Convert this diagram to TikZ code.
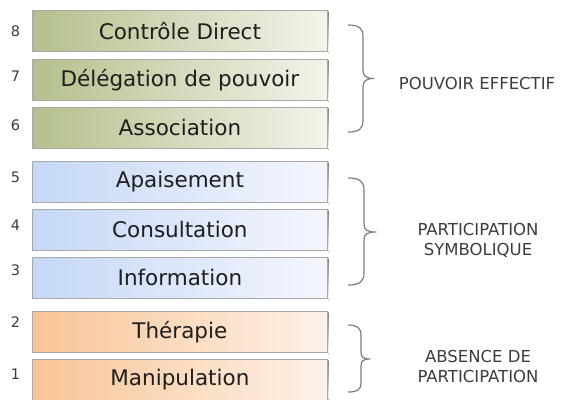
\documentclass[tikz,border=0pt]{standalone}
\usepackage{fontspec}
\setmainfont{DejaVu Sans}
\definecolor{gL}{RGB}{180,192,140}
\definecolor{gR}{RGB}{243,244,234}
\definecolor{bL}{RGB}{196,216,246}
\definecolor{bR}{RGB}{245,246,253}
\definecolor{oL}{RGB}{248,196,150}
\definecolor{oR}{RGB}{253,242,232}
\definecolor{edge}{RGB}{168,168,168}
\definecolor{shade}{RGB}{205,205,205}
\definecolor{txt}{RGB}{30,30,30}
\definecolor{lbl}{RGB}{60,60,60}
\definecolor{brc}{RGB}{125,125,125}
\begin{document}
\begin{tikzpicture}[x=1pt,y=-1pt,
  rung/.style={draw=edge, line width=0.8pt, minimum width=295pt, minimum height=41pt,
    inner sep=0pt, text=txt, font=\fontsize{21.5}{24}\selectfont, anchor=north west},
  green/.style={rung, left color=gL, right color=gR},
  blue/.style={rung, left color=bL, right color=bR},
  orange/.style={rung, left color=oL, right color=oR},
  num/.style={text=lbl, font=\fontsize{14.5}{16}\selectfont},
  lab/.style={text=lbl, font=\fontsize{16.5}{20}\selectfont, align=center},
  brace/.style={draw=brc, line width=1.2pt, line join=round}
]
\useasboundingbox (0,0) rectangle (564,399);
% shadows
\foreach \t in {10,59,107,161,209,257,311,359}
  \fill[shade] (33.5,\t+1.5) rectangle (328.5,\t+42.5);
\node[green]  (r8) at (32,10)  {Contrôle Direct};
\node[green]  (r7) at (32,59)  {Délégation de pouvoir};
\node[green]  (r6) at (32,107) {Association};
\node[blue]   (r5) at (32,161) {Apaisement};
\node[blue]   (r4) at (32,209) {Consultation};
\node[blue]   (r3) at (32,257) {Information};
\node[orange] (r2) at (32,311) {Thérapie};
\node[orange] (r1) at (32,359) {Manipulation};
\node[num] (n8) at (15.5,31)  {8};
\node[num] (n7) at (15.5,76)  {7};
\node[num] (n6) at (15.5,125) {6};
\node[num] (n5) at (15.5,177) {5};
\node[num] (n4) at (15.5,225) {4};
\node[num] (n3) at (15.5,270) {3};
\node[num] (n2) at (15.5,322) {2};
\node[num] (n1) at (15.5,374) {1};
% braces
\draw[brace] (348,25) .. controls (359,25) and (363,28) .. (363,37) -- (363,70)
  .. controls (363,76) and (366,78.5) .. (374,78.5)
  .. controls (366,78.5) and (363,81) .. (363,87) -- (363,120)
  .. controls (363,129) and (359,132) .. (348,132);
\draw[brace] (348,178) .. controls (359,178) and (364,181) .. (364,190) -- (364,224)
  .. controls (364,230) and (367,232) .. (376,232)
  .. controls (367,232) and (364,234) .. (364,240) -- (364,273)
  .. controls (364,282) and (359,285) .. (348,285);
\draw[brace] (348,325) .. controls (357,325) and (361,328) .. (361,335) -- (361,352)
  .. controls (361,357) and (363,359) .. (370,359)
  .. controls (363,359) and (361,361) .. (361,366) -- (361,383)
  .. controls (361,390) and (357,392) .. (348,392);
\node[lab] (l1) at (477,83.5) {POUVOIR EFFECTIF};
\node[lab] (l2) at (478,240) {PARTICIPATION\\SYMBOLIQUE};
\node[lab] (l3) at (478,366) {ABSENCE DE\\PARTICIPATION};
\end{tikzpicture}
\end{document}
